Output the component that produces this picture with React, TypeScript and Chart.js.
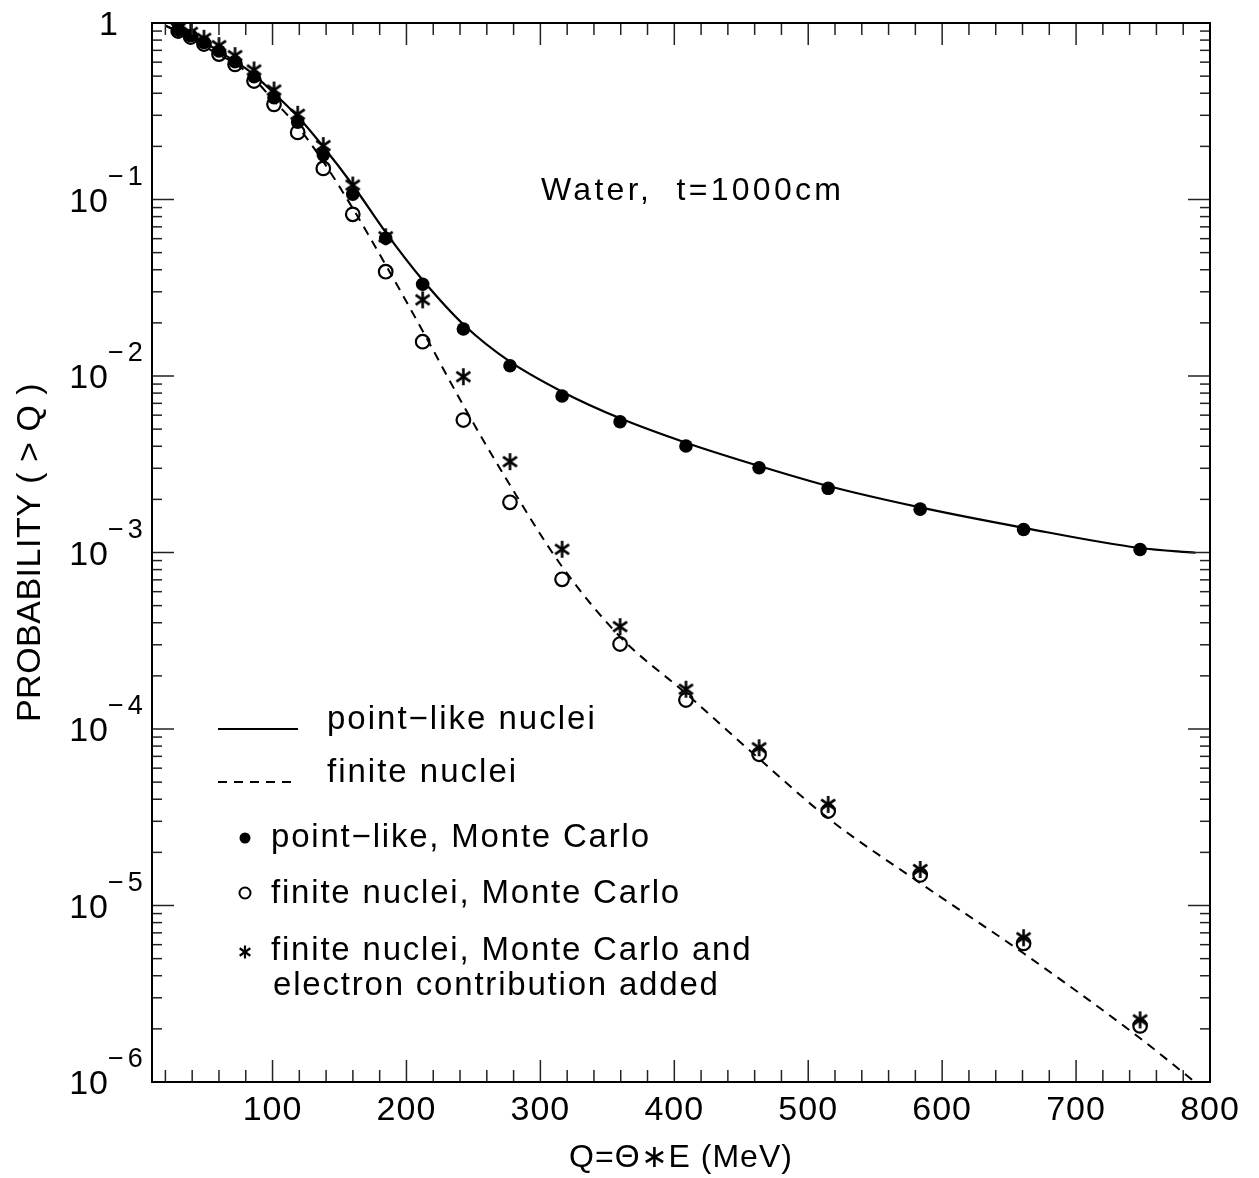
import React, { useEffect, useRef } from "react";
import { Chart, registerables } from "chart.js";

Chart.register(...registerables);

// ---- data (Q in MeV, probability P(>Q)) ----
const qMC = [29.6, 38.9, 48.8, 60.0, 72.0, 86.2, 101.1, 118.8, 137.9, 159.9, 184.5, 212.1, 242.5, 277.3, 316.2, 359.5, 408.7, 463.3, 514.9, 583.6, 660.8, 747.8];
const pointLikeMC = [0.913, 0.847, 0.777, 0.694, 0.604, 0.496, 0.377, 0.274, 0.179, 0.107, 0.0603, 0.0331, 0.01846, 0.01144, 0.0077, 0.00551, 0.00401, 0.00302, 0.00231, 0.00176, 0.00135, 0.00104];
const finiteMC = [0.901, 0.833, 0.760, 0.667, 0.583, 0.469, 0.346, 0.240, 0.150, 0.0824, 0.0390, 0.01564, 0.00563, 0.001925, 0.000705, 0.000303, 0.000146, 7.19e-5, 3.43e-5, 1.49e-5, 6.1e-6, 2.08e-6];
const finiteElectronMC = [0.933, 0.885, 0.819, 0.744, 0.653, 0.542, 0.417, 0.304, 0.202, 0.1208, 0.0615, 0.0270, 0.00991, 0.00327, 0.001043, 0.00038, 0.000168, 7.83e-5, 3.74e-5, 1.60e-5, 6.57e-6, 2.25e-6];

const pointLikeCurveQ = [20.5, 38.9, 48.8, 58.3, 83.2, 101.1, 118.8, 137.9, 159.9, 184.5, 212.1, 243, 277.3, 316.2, 359.5, 408.7, 463.5, 514.9, 583.6, 660.8, 747.8, 789.2];
const pointLikeCurveP = [0.962, 0.844, 0.78, 0.703, 0.530, 0.400, 0.295, 0.199, 0.1208, 0.0652, 0.0350, 0.01945, 0.01205, 0.00815, 0.00576, 0.00419, 0.00309, 0.00238, 0.00180, 0.00138, 0.00106, 0.000997];

const finiteCurveQ = [20.5, 38.9, 60.0, 72.0, 86.2, 101.1, 118.8, 137.9, 159.9, 184.5, 212.1, 243, 277.3, 316.2, 359.5, 408.7, 463.1, 514.9, 583.6, 660.8, 747.8, 786.6];
const finiteCurveP = [0.962, 0.822, 0.659, 0.591, 0.482, 0.362, 0.259, 0.164, 0.0891, 0.0426, 0.0180, 0.0067, 0.00241, 0.000832, 0.000333, 0.000159, 6.8e-5, 3.12e-5, 1.34e-5, 5.36e-6, 1.77e-6, 1.03e-6];

// ---- axes / ticks ----
const xMin = 10;
const xMax = 800;
const yMin = 1e-6;
const yMax = 1;
const xMajorTicks = [100, 200, 300, 400, 500, 600, 700, 800];
const xTickLabels = ["100", "200", "300", "400", "500", "600", "700", "800"];
const xMinorStep = 20;
const yMajorTicks = [1, 1e-1, 1e-2, 1e-3, 1e-4, 1e-5, 1e-6];
const yTickExponents = ["", "\u22121", "\u22122", "\u22123", "\u22124", "\u22125", "\u22126"];
const yMinorMultipliers = [2, 3, 4, 5, 6, 7, 8, 9];

const xTitle = "Q=\u0398\u2217E (MeV)";
const yTitle = "PROBABILITY ( > Q )";
const annotation = "Water,  t=1000cm";
const legendLines = ["point\u2212like nuclei", "finite nuclei"];
const legendMarkers = [
  "point\u2212like, Monte Carlo",
  "finite nuclei, Monte Carlo",
  "finite nuclei, Monte Carlo and",
  "electron contribution added",
];

const FONT = '"Liberation Sans", Arial, sans-serif';
const STAR_ANGLES = [90, 35, 145];

function makeAsterisk(r: number, lw: number): HTMLCanvasElement {
  const c = document.createElement("canvas");
  const s = Math.ceil(2 * r + 6);
  c.width = s;
  c.height = s;
  const g = c.getContext("2d")!;
  g.strokeStyle = "#000";
  g.lineWidth = lw;
  g.lineCap = "butt";
  const cx = s / 2;
  const cy = s / 2;
  for (const ang of STAR_ANGLES) {
    const a = (ang * Math.PI) / 180;
    g.beginPath();
    g.moveTo(cx - r * Math.cos(a), cy - r * Math.sin(a));
    g.lineTo(cx + r * Math.cos(a), cy + r * Math.sin(a));
    g.stroke();
  }
  return c;
}

function drawAsterisk(ctx: CanvasRenderingContext2D, cx: number, cy: number, r: number) {
  for (const ang of STAR_ANGLES) {
    const a = (ang * Math.PI) / 180;
    ctx.beginPath();
    ctx.moveTo(cx - r * Math.cos(a), cy - r * Math.sin(a));
    ctx.lineTo(cx + r * Math.cos(a), cy + r * Math.sin(a));
    ctx.stroke();
  }
}

const decorPlugin = {
  id: "decor",
  afterDraw(chart: any) {
    const ctx: CanvasRenderingContext2D = chart.ctx;
    const a = chart.chartArea;
    const xs = chart.scales.x;
    const ys = chart.scales.y;
    ctx.save();

    // ticks
    ctx.strokeStyle = "#222";
    ctx.lineWidth = 1.5;
    const vline = (px: number, y0: number, y1: number) => {
      ctx.beginPath();
      ctx.moveTo(px, y0);
      ctx.lineTo(px, y1);
      ctx.stroke();
    };
    const hline = (py: number, x0: number, x1: number) => {
      ctx.beginPath();
      ctx.moveTo(x0, py);
      ctx.lineTo(x1, py);
      ctx.stroke();
    };
    for (let v = xMinorStep; v < xMax; v += xMinorStep) {
      const px = xs.getPixelForValue(v);
      const major = xMajorTicks.includes(v);
      const len = major ? 22 : 12;
      vline(px, a.bottom, a.bottom - len);
      vline(px, a.top, a.top + len);
    }
    for (const m of yMajorTicks) {
      const py = ys.getPixelForValue(m);
      hline(py, a.left, a.left + 22);
      hline(py, a.right, a.right - 22);
      if (m < yMax) {
        for (const k of yMinorMultipliers) {
          const pm = ys.getPixelForValue(m * k);
          if (pm < a.top - 0.5) continue;
          hline(pm, a.left, a.left + 10);
          hline(pm, a.right, a.right - 10);
        }
      }
    }

    // frame
    ctx.strokeStyle = "#000";
    ctx.lineWidth = 2;
    ctx.strokeRect(a.left, a.top, a.right - a.left, a.bottom - a.top);

    ctx.fillStyle = "#000";
    // x tick labels
    ctx.font = `34px ${FONT}`;
    ctx.textAlign = "center";
    ctx.textBaseline = "alphabetic";
    (ctx as any).letterSpacing = "1px";
    xMajorTicks.forEach((v, i) => {
      ctx.fillText(xTickLabels[i], xs.getPixelForValue(v), a.bottom + 38);
    });

    // y tick labels
    yMajorTicks.forEach((m, i) => {
      const py = ys.getPixelForValue(m);
      if (yTickExponents[i] === "") {
        ctx.font = `34px ${FONT}`;
        ctx.textAlign = "right";
        (ctx as any).letterSpacing = "0px";
        ctx.fillText("1", 118, py + 12);
      } else {
        ctx.font = `34px ${FONT}`;
        ctx.textAlign = "right";
        (ctx as any).letterSpacing = "1px";
        ctx.fillText("10", 109, py + 12);
        ctx.font = `27px ${FONT}`;
        ctx.textAlign = "left";
        (ctx as any).letterSpacing = "4px";
        ctx.fillText(yTickExponents[i], 108, py - 15);
      }
    });

    // axis titles
    (ctx as any).letterSpacing = "1px";
    ctx.font = `32px ${FONT}`;
    ctx.textAlign = "center";
    ctx.fillText(xTitle, (a.left + a.right) / 2, 1167);

    ctx.save();
    ctx.translate(40, (a.top + a.bottom) / 2);
    ctx.rotate(-Math.PI / 2);
    (ctx as any).letterSpacing = "0.5px";
    ctx.font = `34px ${FONT}`;
    ctx.fillText(yTitle, 0, 0);
    ctx.restore();

    // annotation
    (ctx as any).letterSpacing = "3.3px";
    ctx.font = `32px ${FONT}`;
    ctx.textAlign = "left";
    ctx.fillText(annotation, 541, 200);

    // legend: lines
    ctx.lineWidth = 2;
    ctx.beginPath();
    ctx.moveTo(218, 729);
    ctx.lineTo(298, 729);
    ctx.stroke();
    ctx.setLineDash([9, 7]);
    ctx.beginPath();
    ctx.moveTo(218, 782);
    ctx.lineTo(291, 782);
    ctx.stroke();
    ctx.setLineDash([]);
    ctx.font = `33px ${FONT}`;
    (ctx as any).letterSpacing = "2px";
    ctx.fillText(legendLines[0], 327, 729);
    ctx.fillText(legendLines[1], 327, 782);

    // legend: markers
    ctx.beginPath();
    ctx.arc(245, 838, 5.5, 0, Math.PI * 2);
    ctx.fill();
    ctx.lineWidth = 2;
    ctx.beginPath();
    ctx.arc(245, 893, 5.5, 0, Math.PI * 2);
    ctx.stroke();
    ctx.lineWidth = 2.2;
    drawAsterisk(ctx, 245, 952, 6.5);
    (ctx as any).letterSpacing = "1.8px";
    ctx.fillText(legendMarkers[0], 271, 847);
    ctx.fillText(legendMarkers[1], 271, 903);
    ctx.fillText(legendMarkers[2], 271, 960);
    ctx.fillText(legendMarkers[3], 273, 995);

    ctx.restore();
  },
};

export default function App() {
  const ref = useRef<HTMLCanvasElement | null>(null);
  useEffect(() => {
    if (!ref.current) return;
    const toXY = (xs: number[], ys: number[]) => xs.map((q, i) => ({ x: q, y: ys[i] }));
    const asterisk = makeAsterisk(8.5, 2.6);
    const chart = new Chart(ref.current, {
      type: "scatter",
      data: {
        datasets: [
          {
            label: "point-like, Monte Carlo",
            data: toXY(qMC, pointLikeMC),
            pointStyle: "circle",
            pointRadius: 6.8,
            backgroundColor: "#000",
            borderColor: "#000",
            borderWidth: 0,
            showLine: false,
          },
          {
            label: "finite nuclei, Monte Carlo",
            data: toXY(qMC, finiteMC),
            pointStyle: "circle",
            pointRadius: 6.8,
            backgroundColor: "rgba(0,0,0,0)",
            borderColor: "#000",
            borderWidth: 2.2,
            showLine: false,
          },
          {
            label: "finite nuclei, Monte Carlo and electron contribution added",
            data: toXY(qMC, finiteElectronMC),
            pointStyle: asterisk as any,
            pointRadius: 9,
            backgroundColor: "#000",
            borderColor: "#000",
            showLine: false,
          },
          {
            type: "line" as any,
            label: "point-like nuclei",
            data: toXY(pointLikeCurveQ, pointLikeCurveP),
            borderColor: "#000",
            borderWidth: 2.2,
            pointRadius: 0,
            fill: false,
            showLine: true,
            cubicInterpolationMode: "monotone",
          },
          {
            type: "line" as any,
            label: "finite nuclei",
            data: toXY(finiteCurveQ, finiteCurveP),
            borderColor: "#000",
            borderWidth: 2,
            borderDash: [9, 7],
            pointRadius: 0,
            fill: false,
            showLine: true,
            cubicInterpolationMode: "monotone",
          },
        ] as any,
      },
      options: {
        animation: false,
        responsive: false,
        devicePixelRatio: 1,
        events: [],
        layout: { padding: { left: 152, top: 23, right: 49, bottom: 96 } },
        plugins: { legend: { display: false }, tooltip: { enabled: false } },
        scales: {
          x: { type: "linear", min: xMin, max: xMax, display: false },
          y: { type: "logarithmic", min: yMin, max: yMax, display: false },
        },
      },
      plugins: [decorPlugin],
    });
    return () => chart.destroy();
  }, []);
  return (
    <div style={{ position: "absolute", left: 0, top: 0, width: 1259, height: 1178, background: "#fff" }}>
      <canvas ref={ref} width={1259} height={1178} style={{ width: 1259, height: 1178, display: "block" }} />
    </div>
  );
}
